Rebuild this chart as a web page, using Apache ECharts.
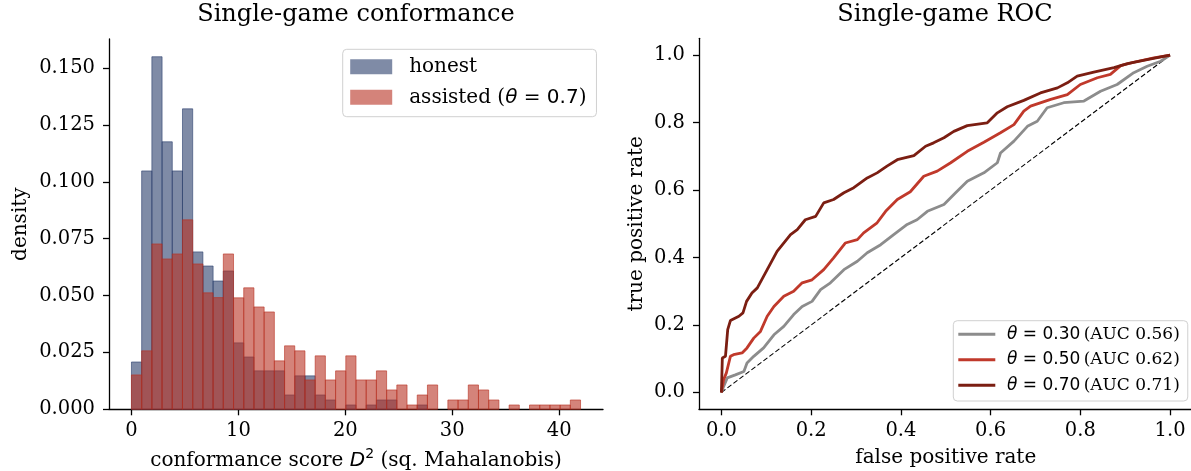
<!DOCTYPE html>
<html><head><meta charset="utf-8">
<script src="https://cdn.jsdelivr.net/npm/echarts@6/dist/echarts.min.js"></script>
<style>html,body{margin:0;padding:0;background:#fff}#c{width:1191px;height:471px}</style>
</head><body><div id="c"></div>
<script>
// ---- histogram data (density per bin, 44 equal bins over [0, 42]) ----
const BIN_MIN = 0, BIN_MAX = 42, N_BINS = 44;
const honest = [0.0208,0.1048,0.1550,0.1176,0.1048,0.1321,0.0692,0.0630,0.0564,0.0608,
  0.0292,0.0230,0.0169,0.0169,0.0169,0.0063,0.0147,0.0147,0.0063,0.0041,
  0,0.0019,0,0.0019,0.0041,0.0041,0,0,0.0019,0,
  0,0,0,0,0,0,0,0,0,0,0,0,0,0];
const assisted = [0.0151,0.0257,0.0727,0.0661,0.0683,0.0833,0.0639,0.0512,0.0491,0.0683,
  0.0490,0.0534,0.0450,0.0428,0.0213,0.0279,0.0257,0.0129,0.0235,0.0129,
  0.0169,0.0235,0.0129,0.0129,0.0169,0.0085,0.0107,0.0019,0.0063,0.0107,
  0,0.0041,0.0041,0.0107,0.0085,0.0041,0,0.0019,0,0.0019,0.0019,0.0019,0.0019,0.0041];
const histXTicks = [0,10,20,30,40];
const histYTicks = [0,0.025,0.05,0.075,0.1,0.125,0.15];

// ---- ROC curves [FPR, TPR] ----
const roc30 = [[0,0],[0.005,0.018],[0.013,0.043],[0.031,0.052],[0.050,0.062],[0.057,0.087],[0.072,0.107],[0.094,0.132],[0.117,0.171],[0.139,0.196],[0.161,0.231],[0.180,0.255],[0.202,0.270],[0.221,0.305],[0.243,0.325],[0.273,0.364],[0.303,0.389],[0.325,0.414],[0.355,0.438],[0.384,0.468],[0.414,0.498],[0.436,0.512],[0.459,0.537],[0.496,0.557],[0.522,0.592],[0.548,0.626],[0.585,0.651],[0.615,0.681],[0.622,0.710],[0.652,0.745],[0.682,0.789],[0.704,0.804],[0.726,0.844],[0.763,0.859],[0.808,0.864],[0.845,0.893],[0.882,0.913],[0.919,0.948],[0.949,0.967],[0.979,0.982],[1,1]];
const roc50 = [[0,0],[0.005,0.038],[0.011,0.058],[0.020,0.107],[0.027,0.112],[0.046,0.117],[0.057,0.132],[0.072,0.161],[0.087,0.181],[0.102,0.226],[0.117,0.255],[0.139,0.285],[0.161,0.300],[0.180,0.325],[0.202,0.334],[0.228,0.364],[0.250,0.399],[0.276,0.443],[0.303,0.453],[0.317,0.473],[0.347,0.503],[0.366,0.537],[0.392,0.572],[0.421,0.595],[0.451,0.641],[0.481,0.656],[0.511,0.681],[0.548,0.715],[0.585,0.742],[0.622,0.770],[0.652,0.794],[0.674,0.834],[0.689,0.849],[0.734,0.869],[0.771,0.883],[0.800,0.913],[0.838,0.933],[0.867,0.943],[0.890,0.969],[0.919,0.979],[0.964,0.992],[1,1]];
const roc70 = [[0,0],[0.002,0.102],[0.009,0.107],[0.014,0.186],[0.020,0.213],[0.039,0.226],[0.048,0.236],[0.056,0.270],[0.068,0.295],[0.080,0.310],[0.102,0.364],[0.124,0.418],[0.154,0.468],[0.169,0.483],[0.187,0.512],[0.210,0.522],[0.228,0.562],[0.250,0.572],[0.273,0.592],[0.295,0.607],[0.325,0.636],[0.347,0.651],[0.369,0.671],[0.392,0.690],[0.429,0.702],[0.455,0.730],[0.473,0.740],[0.496,0.755],[0.518,0.774],[0.548,0.791],[0.592,0.799],[0.615,0.829],[0.637,0.847],[0.674,0.866],[0.711,0.888],[0.749,0.903],[0.771,0.918],[0.793,0.938],[0.830,0.950],[0.875,0.963],[0.905,0.975],[0.949,0.987],[1,1]];
const chance = [[0,0],[1,1]];
const thetas = ['0.30','0.50','0.70'];
const aucs = ['0.56','0.62','0.71'];
const rocTicks = [0,0.2,0.4,0.6,0.8,1.0];

// ---- styles ----
const SERIF = 'DejaVu Serif', SANS = 'DejaVu Sans';
const HONEST_FILL = 'rgba(42,62,107,0.6)';
const ASSIST_FILL = 'rgba(183,48,33,0.6)';
const ROC_COLORS = ['#8c8c8c', '#c0392b', '#7b1e12'];

const binW = (BIN_MAX - BIN_MIN) / N_BINS;
function histData(arr){ return arr.map((d,i)=>[BIN_MIN + i*binW, BIN_MIN + (i+1)*binW, d]).filter(r=>r[2]>0); }
function histRender(fill){
  return function(params, api){
    const p0 = api.coord([api.value(0), api.value(2)]);
    const p1 = api.coord([api.value(1), 0]);
    return {type:'rect', shape:{x:p0[0], y:p0[1], width:p1[0]-p0[0], height:p1[1]-p0[1]},
      style:{fill:fill, stroke:fill, lineWidth:1}};
  };
}
const tickFont = {fontFamily:SERIF, fontSize:19.5, color:'#000'};
const axisLine = {show:true, onZero:false, lineStyle:{color:'#000', width:1.3}};
function tick(vals){ return {show:true, customValues:vals, length:6, lineStyle:{color:'#000', width:1.3}}; }
const rich = {
  sf:{fontFamily:SERIF, fontSize:20, color:'#000'},
  th:{fontFamily:SANS, fontStyle:'italic', fontSize:20, color:'#000'},
  sn:{fontFamily:SANS, fontSize:20, color:'#000'},
  sup:{fontFamily:SANS, fontSize:14, color:'#000', padding:[0,0,12,0]}
};
const richS = {
  sf:{fontFamily:SERIF, fontSize:17, color:'#000'},
  th:{fontFamily:SANS, fontStyle:'italic', fontSize:17, color:'#000'},
  sn:{fontFamily:SANS, fontSize:17, color:'#000'}
};
const richL = {
  sf:{fontFamily:SERIF, fontSize:20, color:'#000'},
  th:{fontFamily:SANS, fontStyle:'italic', fontSize:20, color:'#000'},
  sn:{fontFamily:SANS, fontSize:20, color:'#000'}
};
const rocNames = thetas.map((t,i)=>'θ = '+t+' (AUC '+aucs[i]+')');
const rocData = [roc30, roc50, roc70];

const chart = echarts.init(document.getElementById('c'), null, {renderer:'canvas'});
chart.setOption({
  animation:false,
  backgroundColor:'#fff',
  graphic:[
    {type:'text', x:356, y:15, style:{text:'Single-game conformance', fontFamily:SERIF, fontSize:24, fill:'#000', textAlign:'center', textVerticalAlign:'middle'}},
    {type:'text', x:945, y:15, style:{text:'Single-game ROC', fontFamily:SERIF, fontSize:24, fill:'#000', textAlign:'center', textVerticalAlign:'middle'}}
  ],
  grid:[
    {left:109, width:494, top:39, bottom:61.7, containLabel:false, outerBoundsMode:'none'},
    {left:699, width:493.5, top:38.3, bottom:61.7, containLabel:false, outerBoundsMode:'none'}
  ],
  legend:[
    {left:342.7, top:49.3, orient:'vertical', padding:[7.4,10,9.4,7.5], itemGap:10.6, itemWidth:42, itemHeight:15,
      borderColor:'#d0d0d0', borderWidth:1, borderRadius:4, backgroundColor:'rgba(255,255,255,0.8)',
      data:[{name:'honest', icon:'rect'}, {name:'assisted', icon:'rect'}],
      textStyle:{padding:[0,0,0,12], rich:richL},
      formatter:n => n==='honest' ? '{sf|honest}' : '{sf|assisted (}{th|θ}{sn| = 0.7}{sf|)}'
    },
    {left:953.3, top:320.7, orient:'vertical', padding:[5.1,8,7.2,5], itemGap:8.5, itemWidth:37, itemHeight:3,
      borderColor:'#d0d0d0', borderWidth:1, borderRadius:4, backgroundColor:'rgba(255,255,255,0.8)',
      data:rocNames.map(n=>({name:n, icon:'rect'})),
      textStyle:{padding:[0,0,0,6.7], rich:richS},
      formatter:n => { const i = rocNames.indexOf(n); return '{th|θ}{sn| = '+thetas[i]+'} {sf|(AUC '+aucs[i]+')}'; }
    }
  ],
  xAxis:[
    {type:'value', gridIndex:0, min:-2.1, max:44.1, axisLine:axisLine, axisTick:tick(histXTicks),
      axisLabel:{customValues:histXTicks, margin:12, ...tickFont}, splitLine:{show:false},
      name:'{sf|conformance score }{th|D}{sup|2}{sf| (sq. Mahalanobis)}', nameLocation:'middle', nameGap:38,
      nameTextStyle:{rich:rich}},
    {type:'value', gridIndex:1, min:-0.05, max:1.05, axisLine:axisLine, axisTick:tick(rocTicks),
      axisLabel:{customValues:rocTicks, margin:12, formatter:v=>v.toFixed(1), ...tickFont}, splitLine:{show:false},
      name:'false positive rate', nameLocation:'middle', nameGap:38,
      nameTextStyle:{fontFamily:SERIF, fontSize:20, color:'#000'}}
  ],
  yAxis:[
    {type:'value', gridIndex:0, min:0, max:0.1628, axisLine:axisLine, axisTick:tick(histYTicks),
      axisLabel:{customValues:histYTicks, margin:14, formatter:v=>v.toFixed(3), ...tickFont}, splitLine:{show:false},
      name:'density', nameLocation:'middle', nameGap:78, nameTextStyle:{fontFamily:SERIF, fontSize:20, color:'#000'}},
    {type:'value', gridIndex:1, min:-0.05, max:1.05, axisLine:axisLine, axisTick:tick(rocTicks),
      axisLabel:{customValues:rocTicks, margin:14, formatter:v=>v.toFixed(1), ...tickFont}, splitLine:{show:false},
      name:'true positive rate', nameLocation:'middle', nameGap:52, nameTextStyle:{fontFamily:SERIF, fontSize:20, color:'#000'}}
  ],
  series:[
    {name:'honest', type:'custom', xAxisIndex:0, yAxisIndex:0, data:histData(honest),
      encode:{x:[0,1], y:2}, renderItem:histRender(HONEST_FILL), itemStyle:{color:HONEST_FILL}},
    {name:'assisted', type:'custom', xAxisIndex:0, yAxisIndex:0, data:histData(assisted),
      encode:{x:[0,1], y:2}, renderItem:histRender(ASSIST_FILL), itemStyle:{color:ASSIST_FILL}},
    {name:'chance', type:'line', xAxisIndex:1, yAxisIndex:1, data:chance, showSymbol:false, symbol:'none',
      lineStyle:{color:'#000', width:1.1, type:[5,2.5]}, z:1},
    ...rocNames.map((n,i)=>({name:n, type:'line', xAxisIndex:1, yAxisIndex:1, data:rocData[i],
      showSymbol:false, symbol:'none', itemStyle:{color:ROC_COLORS[i]},
      lineStyle:{color:ROC_COLORS[i], width:2.8}, z:2+i}))
  ]
});
</script></body></html>
